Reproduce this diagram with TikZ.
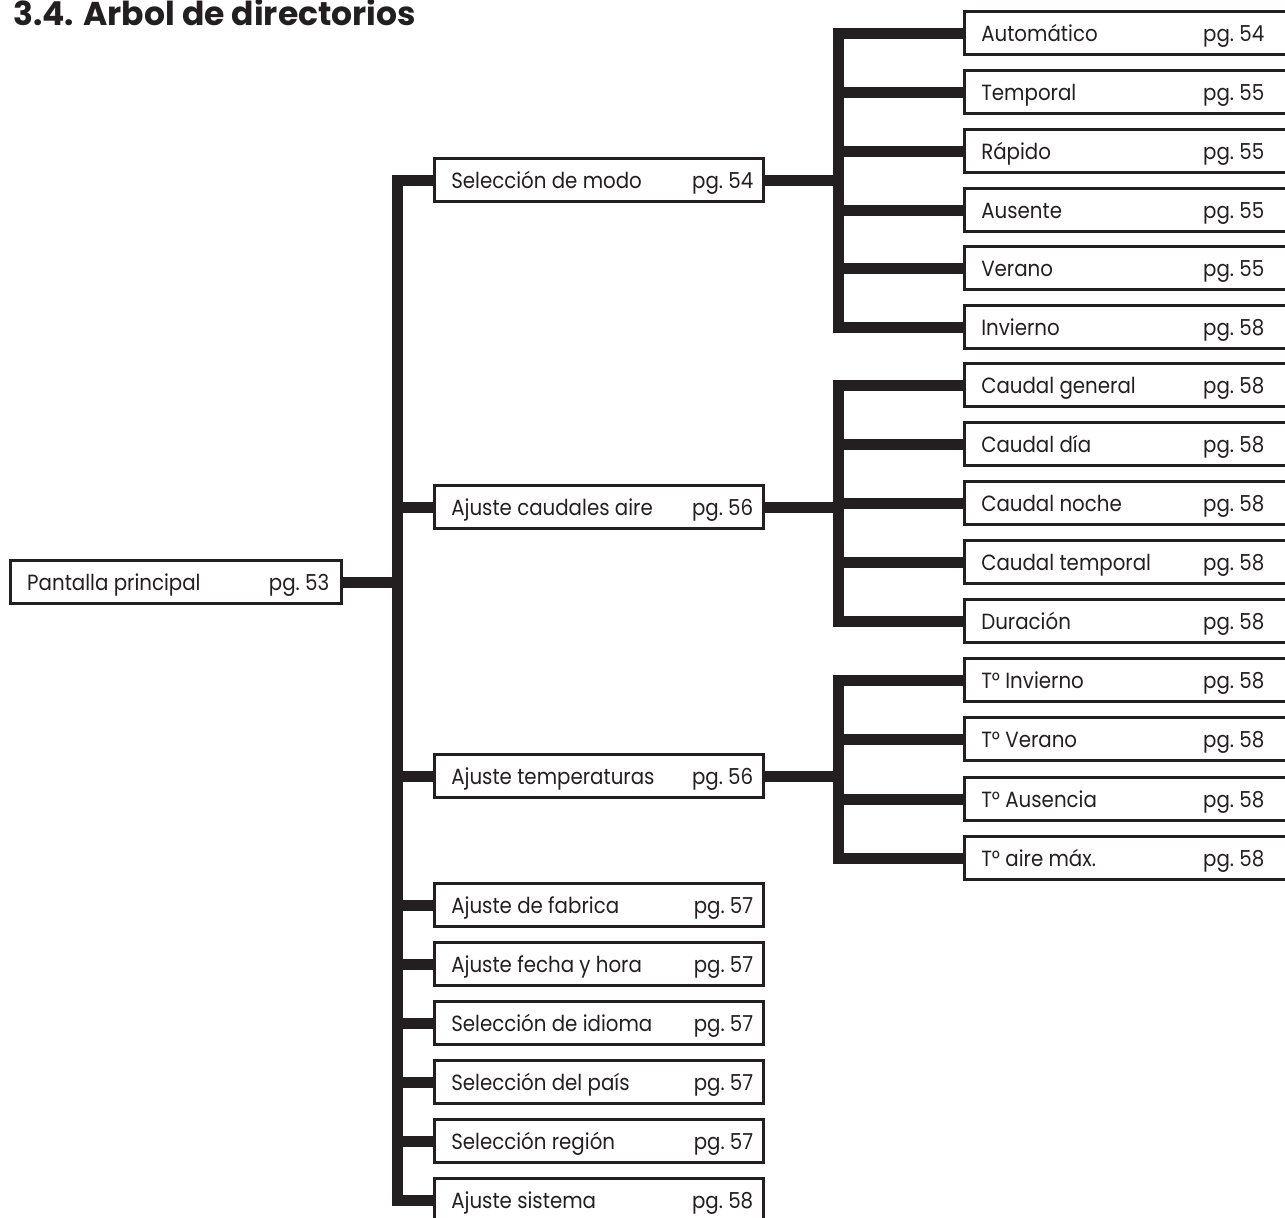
\documentclass[tikz,border=0pt]{standalone}
\usepackage{fontspec}
\setmainfont{Poppins}[FakeStretch=0.9]
\newfontfamily\titfont{Poppins}
\definecolor{tinta}{HTML}{231F20}
\begin{document}
\begin{tikzpicture}[x=1pt, y=-1pt, line join=miter, font=\fontsize{22}{24}\selectfont, color=tinta]
	\tikzset{caja/.style={draw, line width=2.5pt, minimum height=43pt, inner xsep=0pt, text height=17pt, text depth=0pt, anchor=west},
		rama/.style={line width=11pt}}
	\def\ent#1#2#3#4{\makebox[#1]{\hspace*{17pt}#3\hfill pg.~#4\hspace*{#2}}}
	\clip (0,0) rectangle (1285,1218);
	\node [anchor=base west, inner xsep=0pt, font=\titfont\fontsize{33}{35}\selectfont\bfseries] (titulo) at (13,25) {3.4. Arbol de directorios};
	% pantalla principal
	\node [caja] (pant) at (9,582) {\ent{331pt}{12pt}{Pantalla principal}{53}};
	% segundo nivel
	\foreach \y/\n/\t/\p in {180/modo/Selección de modo/54, 507/caud/Ajuste caudales aire/56, 776/temp/Ajuste temperaturas/56,
		905/fabr/Ajuste de fabrica/57, 964/fech/Ajuste fecha y hora/57, 1023/idio/Selección de idioma/57,
		1082/pais/Selección del país/57, 1141/regi/Selección región/57, 1200/sist/Ajuste sistema/58}
		\node [caja] (\n) at (433,\y) {\ent{329pt}{10pt}{\t}{\p}};
	% tercer nivel
	\foreach \y/\n/\t/\p in {33/auto/Automático/54, 92/tmpo/Temporal/55, 151/rapi/Rápido/55, 210/ause/Ausente/55,
		268/vera/Verano/55, 327/invi/Invierno/58,
		385/cgen/Caudal general/58, 444/cdia/Caudal día/58, 503/cnoc/Caudal noche/58, 562/ctmp/Caudal temporal/58, 621/dura/Duración/58,
		680/tinv/T° Invierno/58, 739/tver/T° Verano/58, 799/taus/T° Ausencia/58, 858/tair/T° aire máx./58}
		\node [caja] (\n) at (963,\y) {\ent{360pt}{60pt}{\t}{\p}};
	% ramas
	\coordinate (tr) at (397,582);
	\coordinate (b1) at (838,180);
	\coordinate (b2) at (838,507);
	\coordinate (b3) at (838,776);
	\draw [rama] (modo.west) -| (tr) |- (sist.west)
		(pant.east) -- (tr);
	\foreach \n in {caud,temp,fabr,fech,idio,pais,regi}
		\draw [rama] (tr |- \n.west) -- (\n.west);
	\draw [rama] (auto.west) -| (b1) |- (invi.west)
		(modo.east) -- (b1);
	\foreach \n in {tmpo,rapi,ause,vera}
		\draw [rama] (b1 |- \n.west) -- (\n.west);
	\draw [rama] (cgen.west) -| (b2) |- (dura.west)
		(caud.east) -- (b2);
	\foreach \n in {cdia,cnoc,ctmp}
		\draw [rama] (b2 |- \n.west) -- (\n.west);
	\draw [rama] (tinv.west) -| (b3) |- (tair.west)
		(temp.east) -- (b3);
	\foreach \n in {tver,taus}
		\draw [rama] (b3 |- \n.west) -- (\n.west);
\end{tikzpicture}
\end{document}
